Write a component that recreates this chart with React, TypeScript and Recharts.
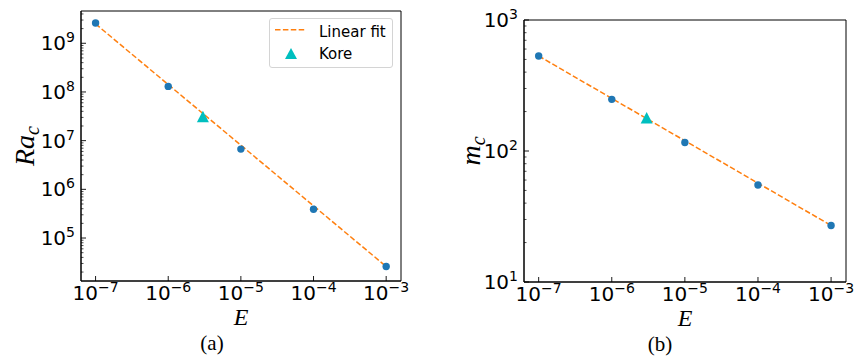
import React from 'react';
import { ScatterChart, Scatter, XAxis, YAxis, Legend, ReferenceArea } from 'recharts';

// ---- data ----
const E_VALUES = [1e-7, 1e-6, 1e-5, 1e-4, 1e-3];
const RA_VALUES = [2.6e9, 1.3e8, 6.7e6, 3.9e5, 2.6e4];
const M_VALUES = [531, 248, 116, 55, 27];
const KORE_E = [3e-6];
const KORE_RA = [3.1e7];
const KORE_M = [179];
const FIT_E = [1e-7, 1e-3];
const FIT_RA = [2.5e9, 2.6e4];
const FIT_M = [531, 27];

// ---- ticks ----
const X_TICKS = [1e-7, 1e-6, 1e-5, 1e-4, 1e-3];
const RA_DECADES = [1e4, 1e5, 1e6, 1e7, 1e8, 1e9];
const M_DECADES = [10, 100];
const MINOR_MULT = [2, 3, 4, 5, 6, 7, 8, 9];
const RA_MAJOR = [1e5, 1e6, 1e7, 1e8, 1e9];
const M_MAJOR = [10, 100, 1000];

const X_DOMAIN = [6.3e-8, 1.6e-3];
const RA_DOMAIN = [1.31e4, 4.6e9];
const M_DOMAIN = [10, 1000];

const withMinor = (decades: number[], major: number[], dom: number[]) => {
  const all = [...major];
  decades.forEach((d) => MINOR_MULT.forEach((m) => all.push(d * m)));
  return all.filter((v) => v >= dom[0] && v <= dom[1]).sort((a, b) => a - b);
};
const RA_TICKS = withMinor(RA_DECADES, RA_MAJOR, RA_DOMAIN);
const M_TICKS = withMinor(M_DECADES, M_MAJOR, M_DOMAIN);

const zip = (xs: number[], ys: number[]) => xs.map((x, i) => ({ x, y: ys[i] }));
const raPoints = zip(E_VALUES, RA_VALUES);
const mPoints = zip(E_VALUES, M_VALUES);
const raKore = zip(KORE_E, KORE_RA);
const mKore = zip(KORE_E, KORE_M);
const raFit = zip(FIT_E, FIT_RA);
const mFit = zip(FIT_E, FIT_M);

const BLUE = '#1f77b4';
const ORANGE = '#ff7f0e';
const CYAN = '#00bfbf';
const SANS = 'DejaVu Sans';
const SERIF = 'Liberation Serif';

const isMajor = (v: number) => Math.abs(Math.log10(v) - Math.round(Math.log10(v))) < 1e-6;
const expText = (v: number) => {
  const n = Math.round(Math.log10(v));
  return n < 0 ? '\u2212' + String(-n) : String(n);
};

const XTick = (props: any) => {
  const { x, y, payload } = props;
  const v = payload.value;
  return (
    <g>
      <line x1={x} y1={y} x2={x} y2={y - 5} stroke="#000" strokeWidth={0.9} />
      <text x={x} y={y + 19} textAnchor="middle" fontFamily={SANS} fontSize={20} fill="#000">
        10
        <tspan dy={-8} fontSize={14}>{expText(v)}</tspan>
      </text>
    </g>
  );
};

const YTick = (props: any) => {
  const { x, y, payload } = props;
  const v = payload.value;
  if (!isMajor(v)) {
    return <line x1={x} y1={y} x2={x + 2.5} y2={y} stroke="#000" strokeWidth={0.7} />;
  }
  return (
    <g>
      <line x1={x} y1={y} x2={x + 5} y2={y} stroke="#000" strokeWidth={0.9} />
      <text x={x - 6} y={y + 7} textAnchor="end" fontFamily={SANS} fontSize={20} fill="#000">
        10
        <tspan dy={-8} fontSize={14}>{expText(v)}</tspan>
      </text>
    </g>
  );
};

const Dot = (p: any) => <circle cx={p.cx} cy={p.cy} r={3.7} fill={BLUE} />;
const Tri = (p: any) => (
  <polygon
    points={`${p.cx},${p.cy - 6} ${p.cx - 6},${p.cy + 5.5} ${p.cx + 6},${p.cy + 5.5}`}
    fill={CYAN}
  />
);
const NoShape = () => <g />;

const LegendBox = () => (
  <div
    style={{
      width: 124,
      height: 50,
      boxSizing: 'border-box',
      border: '1px solid #d4d4d4',
      borderRadius: 3,
      background: 'rgba(255,255,255,0.8)',
    }}
  >
    <svg width={122} height={48} style={{ display: 'block' }}>
      <line x1={5} y1={10.7} x2={36} y2={10.7} stroke={ORANGE} strokeWidth={1.5} strokeDasharray="5.5 2.4" />
      <text x={49} y={17.7} fontFamily={SANS} fontSize={15} fill="#000">Linear fit</text>
      <polygon points="21,29 15,40 27,40" fill={CYAN} />
      <text x={49} y={39.7} fontFamily={SANS} fontSize={15} fill="#000">Kore</text>
    </svg>
  </div>
);

const fitLine = { stroke: ORANGE, strokeWidth: 1.5, strokeDasharray: '5.5 2.4' };

type PanelProps = {
  left: number;
  top: number;
  right: number;
  yAxisWidth: number;
  xAxisHeight: number;
  points: any[];
  kore: any[];
  fit: any[];
  yDomain: number[];
  yTicks: number[];
  yLabel: React.ReactNode;
  caption: string;
  captionX: number;
  showLegend: boolean;
};

const Panel = (p: PanelProps) => (
  <div style={{ position: 'absolute', left: p.left, top: 0 }}>
    <ScatterChart width={430} height={361} margin={{ top: p.top, right: p.right, bottom: 0, left: 0 }}>
      <XAxis
        xAxisId="bottom"
        dataKey="x"
        type="number"
        scale="log"
        domain={X_DOMAIN}
        allowDataOverflow
        ticks={X_TICKS}
        interval={0}
        height={p.xAxisHeight}
        tickSize={0}
        tickMargin={0}
        tickLine={false}
        axisLine={{ stroke: '#000', strokeWidth: 1 }}
        tick={<XTick />}
        label={{
          content: (lp: any) => {
            const vb = lp.viewBox || {};
            const cx = (vb.x || 0) + (vb.width || 0) / 2;
            const by = vb.y || 0;
            return (
              <g>
                <text x={cx} y={by + 44} textAnchor="middle" fontFamily={SERIF} fontStyle="italic" fontSize={24} fill="#000">E</text>
                <text x={p.captionX} y={by + 69} textAnchor="middle" fontFamily={SERIF} fontSize={21} fill="#000">{p.caption}</text>
              </g>
            );
          },
        }}
      />
      <YAxis
        yAxisId="left"
        dataKey="y"
        type="number"
        scale="log"
        domain={p.yDomain}
        allowDataOverflow
        ticks={p.yTicks}
        interval={0}
        width={p.yAxisWidth}
        tickSize={0}
        tickMargin={0}
        tickLine={false}
        axisLine={{ stroke: '#000', strokeWidth: 1 }}
        tick={<YTick />}
        label={{
          content: (lp: any) => {
            const vb = lp.viewBox || {};
            const cy = (vb.y || 0) + (vb.height || 0) / 2;
            return <g transform={`translate(0, ${cy})`}>{p.yLabel}</g>;
          },
        }}
      />
      <ReferenceArea
        xAxisId="bottom"
        yAxisId="left"
        x1={X_DOMAIN[0]}
        x2={X_DOMAIN[1]}
        y1={p.yDomain[0]}
        y2={p.yDomain[1]}
        fill="none"
        fillOpacity={0}
        stroke="#000"
        strokeWidth={1}
        strokeOpacity={1}
        ifOverflow="visible"
      />
      {p.showLegend && (
        <Legend
          layout="horizontal"
          verticalAlign="middle"
          align="center"
          wrapperStyle={{ left: 269, top: 18, width: 124, height: 50 }}
          content={() => <LegendBox />}
        />
      )}
      <Scatter
        name="Linear fit"
        data={p.fit}
        xAxisId="bottom"
        yAxisId="left"
        line={fitLine}
        lineType="joint"
        shape={NoShape}
        isAnimationActive={false}
      />
      <Scatter name="data" data={p.points} xAxisId="bottom" yAxisId="left" shape={Dot} isAnimationActive={false} />
      <Scatter name="Kore" data={p.kore} xAxisId="bottom" yAxisId="left" shape={Tri} isAnimationActive={false} />
    </ScatterChart>
  </div>
);

const raLabel = (
  <text x={34} y={0} transform="rotate(-90 34 0)" textAnchor="middle" fontFamily={SERIF} fontStyle="italic" fontSize={28} fill="#000">
    Ra<tspan dy={5} fontSize={20}>c</tspan>
  </text>
);
const mLabel = (
  <text x={50} y={0} transform="rotate(-90 50 0)" textAnchor="middle" fontFamily={SERIF} fontStyle="italic" fontSize={28} fill="#000">
    m<tspan dy={5} fontSize={20}>c</tspan>
  </text>
);

export default function App() {
  return (
    <div style={{ position: 'absolute', left: 0, top: 0, width: 860, height: 361, background: '#fff' }}>
      <Panel
        left={0}
        top={11}
        right={29}
        yAxisWidth={81}
        xAxisHeight={80}
        points={raPoints}
        kore={raKore}
        fit={raFit}
        yDomain={RA_DOMAIN}
        yTicks={RA_TICKS}
        yLabel={raLabel}
        caption="(a)"
        captionX={212}
        showLegend
      />
      <Panel
        left={430}
        top={20}
        right={14}
        yAxisWidth={94}
        xAxisHeight={79}
        points={mPoints}
        kore={mKore}
        fit={mFit}
        yDomain={M_DOMAIN}
        yTicks={M_TICKS}
        yLabel={mLabel}
        caption="(b)"
        captionX={230}
        showLegend={false}
      />
    </div>
  );
}
